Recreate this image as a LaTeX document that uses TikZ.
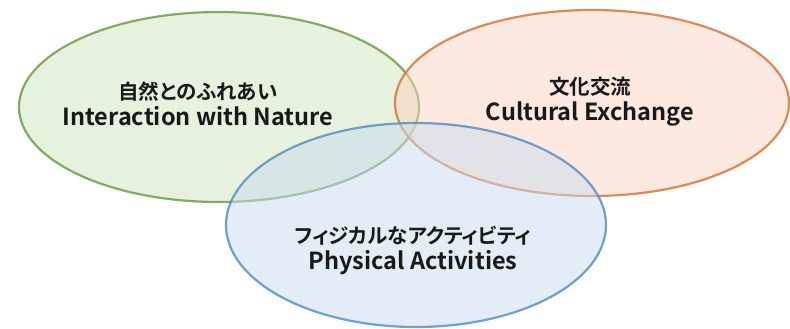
\documentclass[tikz,border=0pt]{standalone}
\usepackage{fontspec}
\newfontfamily\jpfont{Noto Sans CJK JP Bold}[RawFeature=+palt]
\newfontfamily\enfont{Noto Sans CJK JP Bold}
\definecolor{gfill}{HTML}{CDE5BB}
\definecolor{ofill}{HTML}{FBD3BF}
\definecolor{bfill}{HTML}{C7DBEF}
\definecolor{gline}{HTML}{6E9F4A}
\definecolor{oline}{HTML}{D9773A}
\definecolor{bline}{HTML}{5A8FC8}
\newcommand{\jpline}[1]{{\jpfont\fontsize{20.5}{28}\selectfont #1}}
\newcommand{\enline}[1]{{\enfont\fontsize{23.5}{28}\selectfont #1}}
\tikzset{
  venn/.style={line width=2.2pt, fill opacity=0.5, draw opacity=0.85},
  lbl/.style={align=center, text=black!90, inner sep=0pt}
}
\begin{document}
\begin{tikzpicture}[x=1pt,y=-1pt]
\useasboundingbox (0,0) rectangle (790,329);
\path[venn, draw=gline, fill=gfill] (219,107) ellipse [x radius=200, y radius=95];
\path[venn, draw=oline, fill=ofill] (592,103) ellipse [x radius=197, y radius=93];
\path[venn, draw=bline, fill=bfill] (416,225) ellipse [x radius=190, y radius=102];
\node[lbl] (nature) at (198,103.5) {\jpline{自然とのふれあい}\\[4pt]\enline{Interaction with Nature}};
\node[lbl] (culture) at (590,101.5) {\jpline{文化交流}\\[5pt]\enline{Cultural Exchange}};
\node[lbl] (phys) at (413,250.5) {\jpline{フィジカルなアクティビティ}\\[4pt]\enline{Physical Activities}};
\end{tikzpicture}
\end{document}
